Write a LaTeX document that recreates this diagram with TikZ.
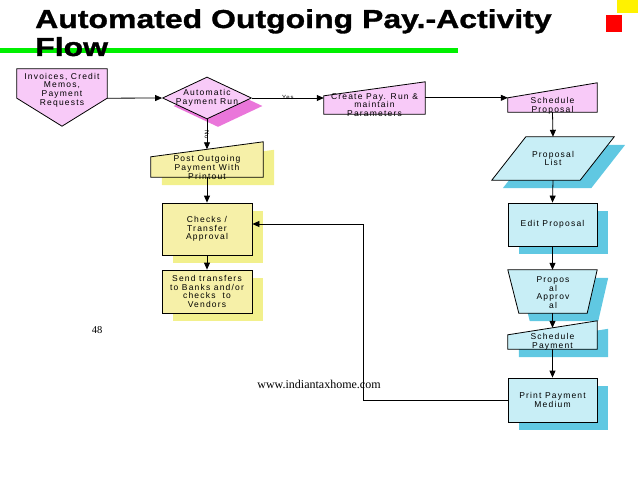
\documentclass[tikz,border=0pt]{standalone}
\usepackage{fontspec}
\setmainfont{Liberation Sans}
\newfontfamily\titlefont[FakeStretch=1.23,FakeBold=1.2]{Liberation Sans}
\newfontfamily\boxfont[LetterSpace=14]{Liberation Sans}
\newfontfamily\webfont{Liberation Serif}
\usetikzlibrary{arrows.meta, shapes.geometric, shadows}

\definecolor{pinkfill}{RGB}{248,202,248}
\definecolor{pinkshade}{RGB}{234,118,218}
\definecolor{yfill}{RGB}{246,240,168}
\definecolor{yshade}{RGB}{242,240,140}
\definecolor{cfill}{RGB}{200,238,246}
\definecolor{cshade}{RGB}{96,200,226}
\definecolor{titlegreen}{RGB}{0,240,0}

\tikzset{
  txt/.style={font=\boxfont\fontsize{8.5}{8.7}\selectfont, align=center, inner sep=0pt},
  frame/.style={draw=none, inner sep=0pt, txt},
  outl/.style={draw=black, line width=0.8pt},
  pinkbox/.style={outl, fill=pinkfill},
  ybox/.style={outl, fill=yfill, drop shadow={fill=yshade, opacity=1, shadow xshift=11pt, shadow yshift=-8pt}},
  cbox/.style={outl, fill=cfill, drop shadow={fill=cshade, opacity=1, shadow xshift=11pt, shadow yshift=-8pt}},
  arr/.style={-{Triangle[length=7pt,width=6pt]}, line width=0.8pt},
  tag/.style={font=\boxfont\fontsize{6}{6}\selectfont, inner sep=0.5pt}
}

\begin{document}
\begin{tikzpicture}[x=1pt, y=-1pt]
  \useasboundingbox (0,0) rectangle (638,479);

  % title
  \draw[titlegreen, line width=5pt] (0,50) -- (458,50);
  \node[anchor=base west, inner sep=0pt, font=\titlefont\bfseries\fontsize{26}{28}\selectfont] (title1) at (35,28) {Automated Outgoing Pay.-Activity};
  \node[anchor=base west, inner sep=0pt, font=\titlefont\bfseries\fontsize{26}{28}\selectfont] (title2) at (35,56) {Flow};
  \fill[yellow] (617,0) rectangle (638,13);
  \fill[red] (606,15) rectangle (622,32);

  % invoices
  \node[frame, minimum width=90pt, minimum height=29pt] (inv) at (62,83.5) {};
  \draw[pinkbox] (inv.north west) -- (inv.north east) -- (inv.south east) -- ([yshift=-28pt]inv.south) -- (inv.south west) -- cycle;
  \node[txt] (inv-t) at (62,90) {Invoices, Credit\\Memos,\\Payment\\Requests};

  % decision
  \node[diamond, pinkbox, inner sep=0pt, minimum width=89pt, minimum height=42pt,
        drop shadow={fill=pinkshade, opacity=1, shadow xshift=11pt, shadow yshift=-8pt}] (dec) at (207,98) {};
  \node[txt] (dec-t) at (dec) {Automatic\\Payment Run};

  % create pay run
  \node[frame, minimum width=101pt, minimum height=18pt] (cpr) at (374.5,105) {};
  \draw[pinkbox] (cpr.south west) -- (cpr.north west) -- ([yshift=14pt]cpr.north east) -- (cpr.south east) -- cycle;
  \node[txt] (cpr-t) at (cpr) {Create Pay. Run \&\\maintain\\Parameters};

  % schedule proposal
  \node[frame, minimum width=89pt, minimum height=14pt] (spr) at (552.5,105) {};
  \draw[pinkbox] (spr.south west) -- (spr.north west) -- ([yshift=15pt]spr.north east) -- (spr.south east) -- cycle;
  \node[txt] (spr-t) at (552.5,105.5) {Schedule\\Proposal};

  % proposal list
  \node[frame, minimum width=122pt, minimum height=43pt] (lst) at (553,158.5) {};
  \draw[cbox] ([xshift=34pt]lst.north west) -- (lst.north east) -- ([xshift=-34pt]lst.south east) -- (lst.south west) -- cycle;
  \node[txt] (lst-t) at (lst) {Proposal\\List};

  % edit proposal
  \node[rectangle, cbox, txt, minimum width=89pt, minimum height=43pt] (edt) at (552.5,224.5) {Edit Proposal};

  % approval
  \node[frame, minimum width=89pt, minimum height=43pt] (apr) at (552.5,291.5) {};
  \draw[cbox] (apr.north west) -- (apr.north east) -- ([xshift=-10pt]apr.south east) -- ([xshift=11pt]apr.south west) -- cycle;
  \node[txt] (apr-t) at (553,292.5) {Propos\\al\\Approv\\al};

  % schedule payment
  \node[frame, minimum width=89pt, minimum height=14pt] (spm) at (552.5,342) {};
  \draw[cbox] (spm.south west) -- (spm.north west) -- ([yshift=14pt]spm.north east) -- (spm.south east) -- cycle;
  \node[txt] (spm-t) at (spm) {Schedule\\Payment};

  % print payment medium
  \node[rectangle, cbox, txt, minimum width=89pt, minimum height=44pt] (prt) at (552.5,400) {Print Payment\\Medium};

  % post outgoing payment
  \node[frame, minimum width=112pt, minimum height=20pt] (pst) at (207,167) {};
  \draw[ybox] (pst.south west) -- (pst.north west) -- ([yshift=15pt]pst.north east) -- (pst.south east) -- cycle;
  \node[txt] (pst-t) at (207,167.5) {Post Outgoing\\Payment With\\Printout};

  % checks / transfer
  \node[rectangle, ybox, txt, minimum width=90pt, minimum height=52pt] (chk) at (207,229) {Checks /\\Transfer\\Approval};

  % send transfers
  \node[rectangle, ybox, txt, minimum width=90pt, minimum height=43pt] (snd) at (207,291.5) {Send transfers\\to Banks and/or\\checks\ \ to\\Vendors};

  % connectors
  \draw[arr] (inv.south east) -- (dec.west);
  \draw[arr] (dec.east) -- node[tag, yshift=1pt] (yes) {Yes} (dec.east -| cpr.west);
  \draw[arr] (cpr.east |- spr.north west) -- (spr.north west);
  \draw[arr] (spr.south) -- (lst.north);
  \draw[arr] (lst.south) -- (edt.north);
  \draw[arr] (edt.south) -- (apr.north);
  \draw[arr] (apr.south) -- ([yshift=7pt]spm.north);
  \draw[arr] (spm.south) -- (prt.north);
  \draw[arr] (dec.south) -- node[tag, rotate=-90] (no) {No} ([yshift=7.5pt]pst.north);
  \draw[arr] (pst.south) -- (chk.north);
  \draw[arr] (chk.south) -- (snd.north);
  \coordinate (ret) at (363,224);
  \draw[arr] (prt.west) -| (ret) -- (ret -| chk.east);

  % footer
  \node[font=\webfont\fontsize{10.5}{12}\selectfont] (pg) at (97,330) {48};
  \node[font=\webfont\fontsize{12}{13}\selectfont] (web) at (319,384) {www.indiantaxhome.com};
\end{tikzpicture}
\end{document}
